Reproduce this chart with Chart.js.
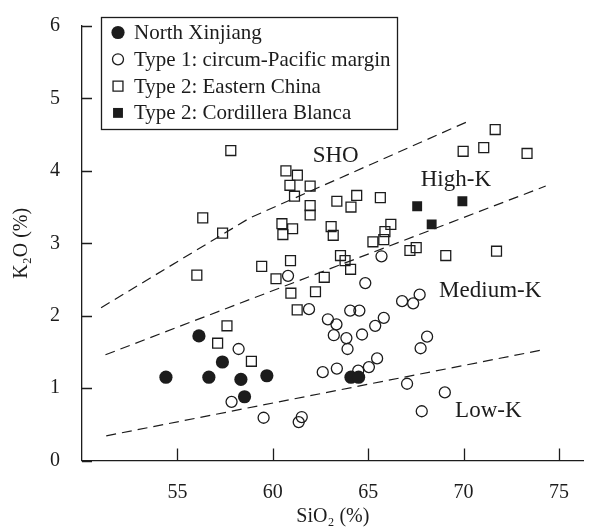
<!DOCTYPE html>
<html>
<head>
<meta charset="utf-8">
<script src="https://cdn.jsdelivr.net/npm/chart.js@4.4.0/dist/chart.umd.min.js"></script>
<style>
html,body{margin:0;padding:0;background:#ffffff;}
#wrap{width:592px;height:532px;position:relative;}
</style>
</head>
<body>
<div id="wrap"><canvas id="c"></canvas></div>
<script>
// ---------------- data ----------------
const seriesNames = ['North Xinjiang', 'Type 1: circum-Pacific margin', 'Type 2: Eastern China', 'Type 2: Cordillera Blanca'];

const northXinjiang = [
  [54.4,1.15],[56.13,1.72],[56.65,1.15],[57.36,1.36],[58.33,1.12],[58.52,0.88],[59.69,1.17],[64.1,1.15],[64.5,1.15]
];

const type1CircumPacific = [
  [58.21,1.54],[57.84,0.81],[59.52,0.59],[61.36,0.53],[61.52,0.60],[61.9,2.09],[62.89,1.95],[63.34,1.88],
  [63.2,1.73],[63.86,1.69],[63.92,1.54],[64.06,2.07],[64.54,2.07],[64.68,1.74],[65.37,1.86],[65.82,1.97],
  [62.62,1.22],[63.36,1.27],[64.48,1.24],[65.04,1.29],[65.47,1.41],[67.04,1.06],[67.81,0.68],[66.78,2.20],
  [67.36,2.17],[67.7,2.29],[68.09,1.71],[67.75,1.55],[64.85,2.45],[65.7,2.82],[60.8,2.55],[69.02,0.94]
];

const type2EasternChina = [
  [57.6,1.86],[57.11,1.62],[58.88,1.37],[57.8,4.28],[56.33,3.35],[57.37,3.14],[56.02,2.56],
  [60.69,4.0],[61.29,3.94],[60.9,3.80],[61.96,3.79],[61.14,3.65],[61.96,3.52],[61.96,3.39],[63.36,3.58],
  [64.4,3.66],[64.1,3.50],[65.64,3.63],[60.48,3.27],[61.04,3.20],[60.53,3.12],[63.06,3.23],[63.17,3.11],
  [66.19,3.26],[65.88,3.16],[65.82,3.05],[65.25,3.02],[67.19,2.90],[67.52,2.94],[63.55,2.83],[63.79,2.76],
  [64.08,2.64],[60.93,2.76],[59.42,2.68],[60.17,2.51],[62.7,2.53],[60.95,2.31],[62.24,2.33],[61.28,2.08],
  [71.66,4.57],[69.98,4.27],[71.06,4.32],[73.33,4.24],[69.07,2.83],[71.73,2.89]
];

const type2CordilleraBlanca = [
  [67.57,3.51],[69.94,3.58],[68.33,3.26]
];

// series boundaries (dashed lines)
const shoHighKBoundary = [[51.0,2.11],[58.8,3.35],[70.3,4.69]];
const highMediumKBoundary = [[51.23,1.46],[74.31,3.79]];
const mediumLowKBoundary = [[51.27,0.34],[74.0,1.52]];

// ticks
const xTicks = [55, 60, 65, 70, 75];
const yTicks = [0, 1, 2, 3, 4, 5, 6];

// field labels
const fieldLabels = ['SHO', 'High-K', 'Medium-K', 'Low-K'];
const fieldLabelX = [63.3, 69.6, 71.4, 71.3];
const fieldLabelY = [4.2, 3.88, 2.34, 0.69];

// ---------------- style ----------------
const INK = '#1c1c1c';
const FONT = "'Liberation Serif', 'Times New Roman', serif";
const toXY = arr => arr.map(p => ({x: p[0], y: p[1]}));

const innerTicks = {
  id: 'innerTicks',
  afterDraw(chart) {
    const {ctx, scales: {x, y}} = chart;
    ctx.save();
    ctx.strokeStyle = INK;
    ctx.lineWidth = 1.3;
    ctx.beginPath();
    xTicks.forEach(v => {
      const px = Math.round(x.getPixelForValue(v)) + 0.5;
      ctx.moveTo(px, y.bottom);
      ctx.lineTo(px, y.bottom - 12);
    });
    yTicks.forEach(v => {
      const py = Math.round(y.getPixelForValue(v)) + 0.5;
      ctx.moveTo(x.left, py);
      ctx.lineTo(x.left + 10, py);
    });
    ctx.stroke();
    ctx.restore();
  }
};

const fieldText = {
  id: 'fieldText',
  afterDatasetsDraw(chart) {
    const {ctx, scales: {x, y}} = chart;
    ctx.save();
    ctx.fillStyle = INK;
    ctx.font = "23px " + FONT;
    ctx.textAlign = 'center';
    ctx.textBaseline = 'middle';
    fieldLabels.forEach((t, i) => {
      ctx.fillText(t, x.getPixelForValue(fieldLabelX[i]), y.getPixelForValue(fieldLabelY[i]));
    });
    ctx.restore();
  }
};

const boxLegend = {
  id: 'boxLegend',
  afterDraw(chart) {
    const {ctx} = chart;
    const left = 101, top = 17, w = 296, h = 112;
    ctx.save();
    ctx.fillStyle = '#ffffff';
    ctx.fillRect(left, top, w, h);
    ctx.strokeStyle = INK;
    ctx.lineWidth = 1.3;
    ctx.strokeRect(left + 0.5, top + 0.5, w, h);
    ctx.font = "21px " + FONT;
    ctx.textBaseline = 'middle';
    ctx.textAlign = 'left';
    for (let i = 0; i < 4; i++) {
      const ds = chart.data.datasets[i];
      const cy = top + 15.5 + i * 26.8;
      const cx = 118;
      ctx.fillStyle = ds.backgroundColor;
      ctx.strokeStyle = ds.borderColor;
      ctx.lineWidth = ds.borderWidth;
      ctx.beginPath();
      if (ds.pointStyle === 'circle') {
        ctx.arc(cx, cy, ds.pointRadius, 0, Math.PI * 2);
      } else {
        const s = ds.pointRadius * Math.SQRT1_2;
        ctx.rect(cx - s, cy - s, 2 * s, 2 * s);
      }
      ctx.fill();
      if (ds.borderWidth > 0) ctx.stroke();
      ctx.fillStyle = INK;
      ctx.fillText(seriesNames[i], 134, cy + 1);
    }
    ctx.restore();
  }
};

const dashed = {type: 'line', borderColor: INK, borderWidth: 1.2, borderDash: [10, 6], pointRadius: 0, fill: false, tension: 0, showLine: true};

new Chart(document.getElementById('c'), {
  type: 'scatter',
  data: {
    datasets: [
      {label: seriesNames[0], data: toXY(northXinjiang), pointStyle: 'circle', pointRadius: 6.6, backgroundColor: INK, borderColor: INK, borderWidth: 0},
      {label: seriesNames[1], data: toXY(type1CircumPacific), pointStyle: 'circle', pointRadius: 5.5, backgroundColor: 'rgba(255,255,255,0)', borderColor: INK, borderWidth: 1.3},
      {label: seriesNames[2], data: toXY(type2EasternChina), pointStyle: 'rect', pointRadius: 7, backgroundColor: 'rgba(255,255,255,0)', borderColor: INK, borderWidth: 1.3},
      {label: seriesNames[3], data: toXY(type2CordilleraBlanca), pointStyle: 'rect', pointRadius: 7, backgroundColor: INK, borderColor: INK, borderWidth: 0},
      Object.assign({label: 'SHO / High-K', data: toXY(shoHighKBoundary)}, dashed),
      Object.assign({label: 'High-K / Medium-K', data: toXY(highMediumKBoundary)}, dashed),
      Object.assign({label: 'Medium-K / Low-K', data: toXY(mediumLowKBoundary)}, dashed)
    ]
  },
  options: {
    responsive: true,
    maintainAspectRatio: false,
    animation: false,
    layout: {padding: {top: 19, right: 0, bottom: 0, left: 0}},
    plugins: {legend: {display: false}, tooltip: {enabled: false}},
    scales: {
      x: {
        type: 'linear', min: 50, max: 76.3,
        afterBuildTicks: s => { s.ticks = xTicks.map(v => ({value: v})); },
        afterFit: s => { s.height = 71.5; },
        grid: {display: false},
        border: {display: true, color: INK, width: 1.3},
        ticks: {color: INK, font: {family: FONT, size: 20}, padding: 12, maxRotation: 0, autoSkip: false},
        title: {display: true, text: 'SiO₂ (%)', color: INK, font: {family: FONT, size: 20}, padding: {top: 0, bottom: 3}}
      },
      y: {
        type: 'linear', min: 0, max: 6,
        afterBuildTicks: s => { s.ticks = yTicks.map(v => ({value: v})); },
        afterFit: s => { s.width = 82; },
        grid: {display: false},
        border: {display: true, color: INK, width: 1.3},
        ticks: {color: INK, font: {family: FONT, size: 20}, padding: 14},
        title: {display: true, text: 'K₂O (%)', color: INK, font: {family: FONT, size: 20}, padding: {top: 10, bottom: 0}}
      }
    }
  },
  plugins: [innerTicks, fieldText, boxLegend]
});
</script>
</body>
</html>
